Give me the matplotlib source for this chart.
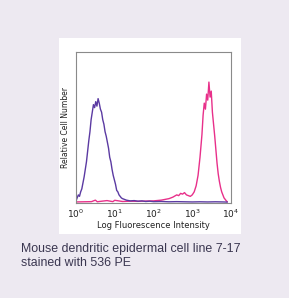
import matplotlib
matplotlib.use("Agg")
import matplotlib.pyplot as plt
import numpy as np

# Log10 fluorescence positions and relative counts
purple_log = [0.00, 0.03, 0.06, 0.09, 0.12, 0.15, 0.18, 0.21, 0.24, 0.27, 0.30, 0.33,
              0.36, 0.39, 0.42, 0.45, 0.48, 0.51, 0.54, 0.57, 0.60, 0.63, 0.66, 0.69,
              0.72, 0.75, 0.78, 0.81, 0.84, 0.87, 0.90, 0.93, 0.96, 0.99, 1.02, 1.05,
              1.08, 1.11, 1.14, 1.17, 1.20, 1.25, 1.30, 1.40, 1.50, 1.60, 1.70, 1.80,
              1.90, 2.00, 2.20, 2.40, 2.60, 2.80, 3.00, 3.20, 3.40, 3.60, 3.80, 3.90]
purple_val = [0.01, 0.03, 0.05, 0.04, 0.07, 0.09, 0.13, 0.17, 0.22, 0.27, 0.34, 0.41,
              0.47, 0.55, 0.60, 0.65, 0.63, 0.67, 0.64, 0.69, 0.66, 0.62, 0.60, 0.55,
              0.52, 0.47, 0.44, 0.40, 0.36, 0.30, 0.27, 0.22, 0.18, 0.15, 0.12, 0.08,
              0.07, 0.05, 0.04, 0.03, 0.025, 0.02, 0.015, 0.01, 0.012, 0.008, 0.01, 0.006,
              0.008, 0.005, 0.006, 0.004, 0.005, 0.004, 0.003, 0.004, 0.003, 0.004, 0.003, 0.002]

pink_log = [0.00, 0.20, 0.40, 0.50, 0.55, 0.60, 0.80, 0.95, 1.00, 1.20, 1.40, 1.60,
            1.80, 2.00, 2.20, 2.40, 2.50, 2.60, 2.65, 2.70, 2.75, 2.80, 2.85, 2.90,
            2.95, 3.00, 3.05, 3.10, 3.15, 3.20, 3.25, 3.28, 3.31, 3.34, 3.37, 3.40,
            3.43, 3.46, 3.49, 3.52, 3.55, 3.58, 3.61, 3.64, 3.67, 3.70, 3.73, 3.76,
            3.79, 3.82, 3.85, 3.88, 3.90]
pink_val = [0.003, 0.004, 0.005, 0.015, 0.004, 0.006, 0.012, 0.005, 0.014, 0.006, 0.008, 0.007,
            0.009, 0.010, 0.015, 0.025, 0.035, 0.050, 0.045, 0.060, 0.055, 0.065, 0.050, 0.045,
            0.040, 0.050, 0.070, 0.110, 0.180, 0.300, 0.450, 0.580, 0.660, 0.620, 0.720, 0.680,
            0.800, 0.700, 0.740, 0.600, 0.520, 0.440, 0.350, 0.260, 0.190, 0.140, 0.100, 0.070,
            0.050, 0.030, 0.020, 0.010, 0.005]

x_ticks = [1, 10, 100, 1000, 10000]
x_label = "Log Fluorescence Intensity"
y_label = "Relative Cell Number"
caption = "Mouse dendritic epidermal cell line 7-17\nstained with 536 PE"

W, H = 289, 298
fig = plt.figure(figsize=(W / 100, H / 100), dpi=100)
fig.patch.set_facecolor("#ede9f1")

# white panel (as a background axes)
bg = fig.add_axes([59 / W, 1 - 234 / H, (241 - 59) / W, (234 - 38) / H], zorder=0)
bg.set_facecolor("white")
bg.set_xticks([])
bg.set_yticks([])
for s in bg.spines.values():
    s.set_visible(False)

ax = fig.add_axes([76 / W, 1 - 203 / H, (231 - 76) / W, (203 - 52) / H], zorder=1)
ax.set_facecolor("white")
ax.plot(10 ** np.array(pink_log), pink_val, color="#e8308a", lw=1.0)
ax.plot(10 ** np.array(purple_log), purple_val, color="#5b3aa2", lw=1.0)
ax.set_xscale("log")
ax.set_xlim(1, 10000)
ax.set_ylim(-0.004, 1.0)
ax.set_xticks(x_ticks)
ax.set_xticklabels([r"$10^{%d}$" % int(np.log10(v)) for v in x_ticks])
ax.minorticks_off()
ax.set_yticks([])
ax.tick_params(axis="x", length=0, pad=3, labelsize=6.5, colors="#222222")
for s in ax.spines.values():
    s.set_color("#8a8a8a")
    s.set_linewidth(0.8)
ax.set_xlabel(x_label, fontsize=6, color="#222222", labelpad=1)
ax.set_ylabel(y_label, fontsize=5.5, color="#222222", labelpad=4)

fig.text(21 / W, 1 - 256 / H, caption, fontsize=8.9, color="#3a3650",
         family="Liberation Sans", ha="left", va="center", linespacing=1.2)

fig.savefig("out.png", dpi=100, facecolor=fig.get_facecolor())
